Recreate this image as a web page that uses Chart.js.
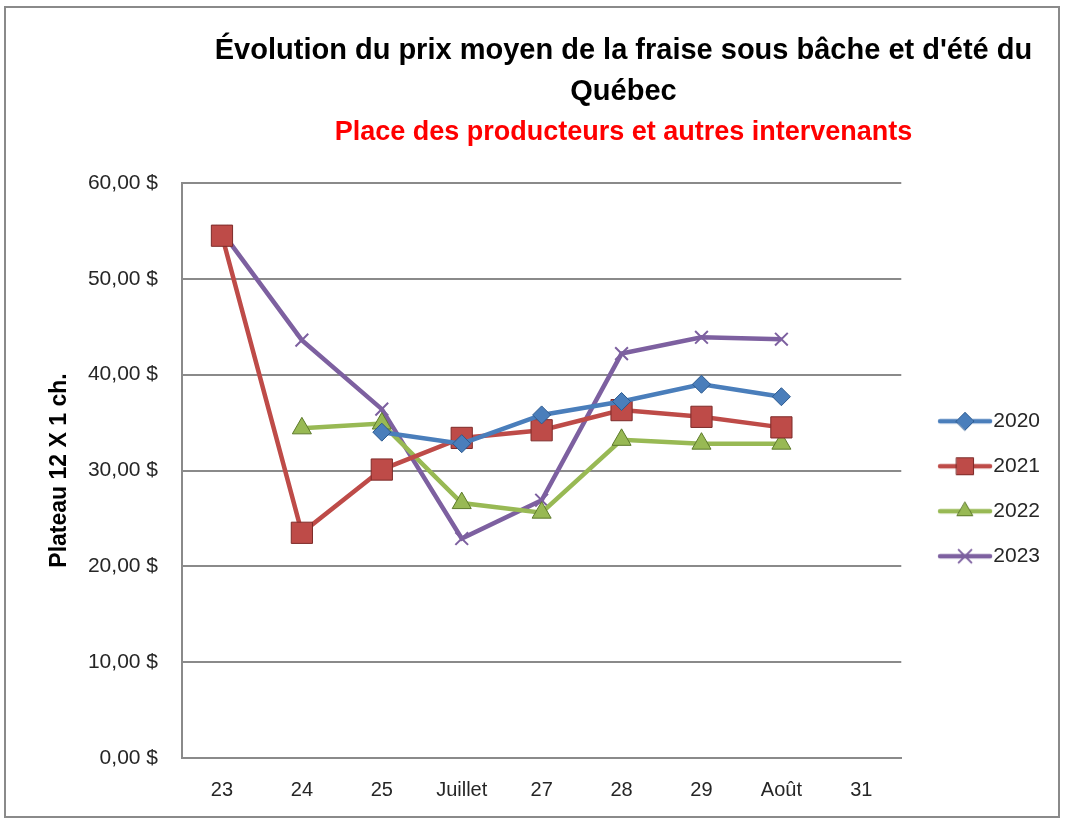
<!DOCTYPE html>
<html>
<head>
<meta charset="utf-8">
<script src="https://cdn.jsdelivr.net/npm/chart.js@4"></script>
<style>
  html, body { margin: 0; padding: 0; background: #fff; }
  #wrap { width: 1065px; height: 821px; position: relative; }
</style>
</head>
<body>
<div id="wrap"><canvas id="chart" width="1065" height="821"></canvas></div>
<script>
// semaines / mois (axe des x)
const labels = ['23', '24', '25', 'Juillet', '27', '28', '29', 'Août', '31'];

// prix moyen, plateau 12 X 1 ch. (null = pas de données)
const prix2020 = [null, null, 34.0, 32.8, 35.8, 37.2, 39.0, 37.7, null];
const prix2021 = [54.5, 23.5, 30.1, 33.4, 34.2, 36.3, 35.6, 34.5, null];
const prix2022 = [null, 34.4, 34.9, 26.6, 25.6, 33.2, 32.8, 32.8, null];
const prix2023 = [54.9, 43.6, 36.4, 22.9, 26.9, 42.2, 43.9, 43.7, null];

const yTicks = [0, 10, 20, 30, 40, 50, 60];

const titleLines = ["Évolution du prix moyen de la fraise sous bâche et d'été du", 'Québec'];
const subTitle = 'Place des producteurs et autres intervenants';

const FONT = "'Liberation Sans', Arial, sans-serif";
const TXT = '#262626';

// small canvas used as legend symbol: line + marker
function legendIcon(ds) {
    const c = document.createElement('canvas');
    c.width = 80;
    c.height = 24;
    const g = c.getContext('2d');
    g.strokeStyle = ds.borderColor;
    g.lineWidth = 4.5;
    g.lineCap = 'round';
    g.beginPath();
    g.moveTo(26, 12);
    g.lineTo(76, 12);
    g.stroke();
    g.fillStyle = ds.pointBackgroundColor;
    g.strokeStyle = ds.pointBorderColor;
    g.lineWidth = ds.pointBorderWidth;
    Chart.helpers.drawPoint(g, {
        pointStyle: ds.pointStyle,
        radius: ds.pointStyle === 'rect' ? 12 : 9,
        borderWidth: ds.pointBorderWidth,
        rotation: 0
    }, 51, 12);
    return c;
}

function series(label, data, color, dark, style, radius) {
    return {
        label,
        data,
        borderColor: color,
        backgroundColor: color,
        borderWidth: 4.5,
        tension: 0,
        pointStyle: style,
        pointRadius: radius,
        pointHoverRadius: radius,
        pointBackgroundColor: color,
        pointBorderColor: style === 'crossRot' ? color : dark,
        pointBorderWidth: style === 'crossRot' ? 2 : 1
    };
}

const datasets = [
    series('2020', prix2020, '#4a7ebb', '#2c5a8f', 'rectRot', 9),
    series('2021', prix2021, '#be4b48', '#7d2b29', 'rect', 15),
    series('2022', prix2022, '#98b954', '#5d7a2b', 'triangle', 11),
    series('2023', prix2023, '#7d60a0', '#7d60a0', 'crossRot', 9)
];

const frame = {
    id: 'frame',
    beforeDraw(chart) {
        const ctx = chart.ctx;
        ctx.save();
        ctx.fillStyle = '#fff';
        ctx.fillRect(0, 0, chart.width, chart.height);
        ctx.strokeStyle = '#8a8a8a';
        ctx.lineWidth = 2;
        ctx.strokeRect(5, 7, chart.width - 11, chart.height - 11);
        ctx.restore();
    },
    afterDraw(chart) {
        const ctx = chart.ctx;
        const cx = (chart.chartArea.left + chart.width) / 2;
        ctx.save();
        ctx.textAlign = 'center';
        ctx.textBaseline = 'middle';
        ctx.fillStyle = '#000';
        ctx.font = 'bold 29px ' + FONT;
        ctx.fillText(titleLines[0], cx, 51);
        ctx.fillText(titleLines[1], cx, 92);
        ctx.fillStyle = '#ff0000';
        ctx.font = 'bold 27px ' + FONT;
        ctx.fillText(subTitle, cx, 133);
        ctx.restore();
    }
};

new Chart(document.getElementById('chart'), {
    type: 'line',
    data: { labels, datasets },
    plugins: [frame],
    options: {
        responsive: false,
        animation: false,
        layout: { padding: { top: 183, left: 40, right: 15, bottom: 6 } },
        plugins: {
            tooltip: { enabled: false },
            title: { display: false },
            legend: {
                position: 'right',
                fullSize: false,
                title: { display: true, text: ' ', padding: { top: 8, bottom: 8 }, font: { size: 17 } },
                labels: {
                    usePointStyle: true,
                    pointStyleWidth: 57.5,
                    padding: 24,
                    color: TXT,
                    font: { family: FONT, size: 21 },
                    generateLabels(chart) {
                        return chart.data.datasets.map((ds, i) => ({
                            text: ds.label,
                            datasetIndex: i,
                            fontColor: TXT,
                            pointStyle: legendIcon(ds),
                            lineWidth: 0,
                            strokeStyle: 'transparent',
                            fillStyle: 'transparent'
                        }));
                    }
                }
            }
        },
        scales: {
            x: {
                offset: true,
                afterFit(s) { s.height = 57; },
                grid: { display: false, drawTicks: false },
                border: { display: true, color: '#8a8a8a', width: 2 },
                ticks: { color: TXT, padding: 20, font: { family: FONT, size: 20 }, maxRotation: 0, autoSkip: false }
            },
            y: {
                min: 0,
                max: 60,
                afterFit(s) { s.width = 142; },
                afterBuildTicks(s) { s.ticks = yTicks.map(v => ({ value: v })); },
                grid: { color: '#8a8a8a', lineWidth: 2, drawTicks: false },
                border: { display: true, color: '#8a8a8a', width: 2 },
                ticks: {
                    color: TXT,
                    padding: 24,
                    font: { family: FONT, size: 21 },
                    callback: v => v.toFixed(2).replace('.', ',') + ' $'
                },
                title: {
                    display: true,
                    text: 'Plateau 12 X 1 ch.',
                    color: '#000',
                    padding: { top: 6, bottom: 0 },
                    font: { family: FONT, size: 23, weight: 'bold' }
                }
            }
        }
    }
});
</script>
</body>
</html>
